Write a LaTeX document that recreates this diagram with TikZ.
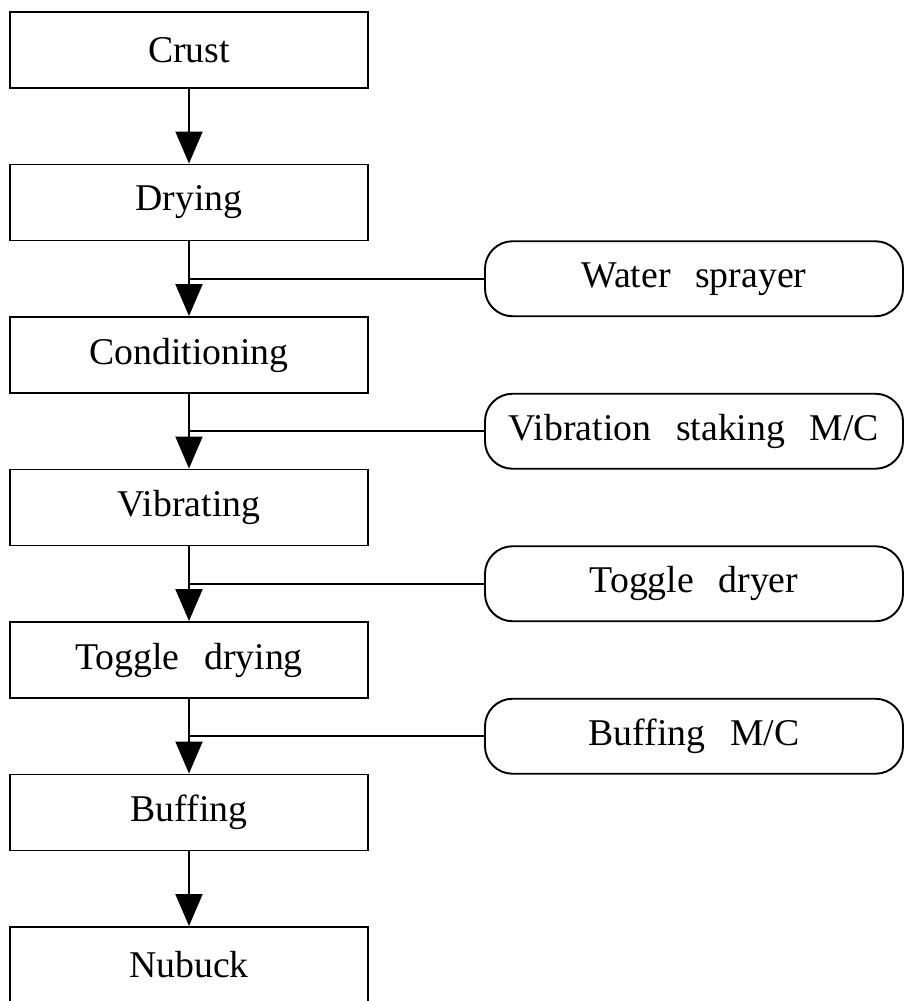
\documentclass[tikz,border=0pt]{standalone}
\usepackage{fontspec}
\setmainfont{Liberation Serif}
\usepackage{tikz}
\usetikzlibrary{arrows.meta}

% wide word gap used in the machine labels
\newcommand{\wgap}{\hspace{0.65em}}

\begin{document}
\begin{tikzpicture}[
		stepbox/.style={draw, line width=1.1pt, minimum width=7.16cm, minimum height=1.52cm, font=\fontsize{21.5}{25}\selectfont},
		machine/.style={draw, line width=1.1pt, rounded corners=5.5mm, minimum width=8.36cm, minimum height=1.5cm, font=\fontsize{21.5}{25}\selectfont},
		flow/.style={-{Triangle[length=6.4mm, width=5.4mm]}, line width=1.1pt},
		link/.style={line width=1.1pt}
	]
		\useasboundingbox (0,0) rectangle (18.1,20.02);

		% process steps
		\node[stepbox] (crust) at (3.78,19.02) {Crust};
		\node[stepbox] (drying) at (3.78,15.97) {Drying};
		\node[stepbox] (cond) at (3.78,12.92) {Conditioning};
		\node[stepbox] (vibr) at (3.78,9.87) {Vibrating};
		\node[stepbox] (toggle) at (3.78,6.82) {Toggle\wgap drying};
		\node[stepbox] (buff) at (3.78,3.77) {Buffing};
		\node[stepbox] (nubuck) at (3.78,0.72) {Nubuck};

		% machines
		\node[machine] (water) at (13.88,14.445) {Water\wgap sprayer};
		\node[machine] (staking) at (13.88,11.395) {Vibration\wgap staking\wgap M/C};
		\node[machine] (dryer) at (13.88,8.345) {Toggle\wgap dryer};
		\node[machine] (buffmc) at (13.88,5.295) {Buffing\wgap M/C};

		\draw[flow] (crust) -- (drying);
		\draw[flow] (drying) -- (cond);
		\draw[flow] (cond) -- (vibr);
		\draw[flow] (vibr) -- (toggle);
		\draw[flow] (toggle) -- (buff);
		\draw[flow] (buff) -- (nubuck);

		\draw[link] (water.west) -- (water.west -| drying.south);
		\draw[link] (staking.west) -- (staking.west -| cond.south);
		\draw[link] (dryer.west) -- (dryer.west -| vibr.south);
		\draw[link] (buffmc.west) -- (buffmc.west -| toggle.south);

	\end{tikzpicture}
\end{document}
